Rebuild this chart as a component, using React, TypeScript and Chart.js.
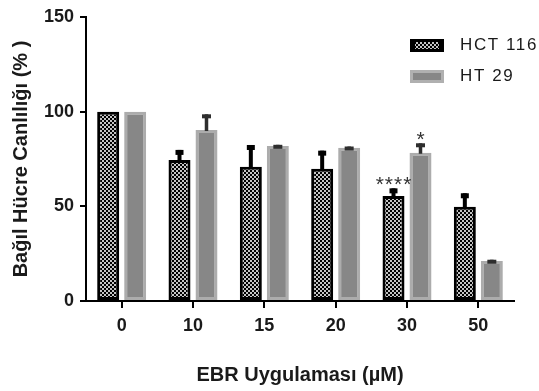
import { useEffect, useRef } from 'react';
import { Chart, registerables } from 'chart.js';
Chart.register(...registerables);

const categories = ['0', '10', '15', '20', '30', '50'];
const seriesLabels = ['HCT 116', 'HT 29'];
const hctValues = [100, 74.5, 70.9, 69.9, 55.5, 49.8];
const hctErrTop = [100, 79.8, 82.4, 79.4, 59.5, 56.9];
const htValues = [100, 90.3, 81.9, 81.0, 78.3, 21.1];
const htErrTop = [100, 98.6, 82.5, 81.6, 83.3, 21.8];
const hctSig = ['', '', '', '', '****', ''];
const htSig = ['', '', '', '', '*', ''];
const yTicks = [0, 50, 100, 150];
const xTitle = 'EBR Uygulaması (µM)';
const yTitle = 'Bağıl Hücre Canlılığı (% )';

const FONT = '"Liberation Sans", Arial, Helvetica, sans-serif';

function makeChecker(ctx: CanvasRenderingContext2D): CanvasPattern {
  const c = document.createElement('canvas');
  c.width = 4;
  c.height = 4;
  const g = c.getContext('2d')!;
  g.fillStyle = '#c4c4c4';
  g.fillRect(0, 0, 4, 4);
  g.fillStyle = '#000000';
  g.fillRect(0, 0, 2, 2);
  g.fillRect(2, 2, 2, 2);
  return ctx.createPattern(c, 'repeat')!;
}

export default function App() {
  const ref = useRef<HTMLCanvasElement | null>(null);

  useEffect(() => {
    const canvas = ref.current!;
    const ctx0 = canvas.getContext('2d')!;
    const checker = makeChecker(ctx0);

    const errStyles = [
      { err: hctErrTop, sig: hctSig, color: '#000000', stem: 4, capW: 8, capH: 5 },
      { err: htErrTop, sig: htSig, color: '#2e2e2e', stem: 3.5, capW: 9, capH: 4 },
    ];

    const errorPlugin = {
      id: 'errorBars',
      afterDatasetsDraw(chart: any) {
        const ctx = chart.ctx as CanvasRenderingContext2D;
        const ys = chart.scales.y;
        errStyles.forEach((s, di) => {
          const meta = chart.getDatasetMeta(di);
          meta.data.forEach((el: any, i: number) => {
            const v = chart.data.datasets[di].data[i] as number;
            const top = ys.getPixelForValue(s.err[i]);
            const barTop = ys.getPixelForValue(v);
            ctx.save();
            if (s.err[i] > v) {
              ctx.fillStyle = s.color;
              ctx.fillRect(el.x - s.stem / 2, top, s.stem, barTop - top + 1);
              ctx.fillRect(el.x - s.capW / 2, top, s.capW, s.capH);
            }
            if (s.sig[i]) {
              ctx.fillStyle = '#333333';
              ctx.font = `21px ${FONT}`;
              (ctx as any).letterSpacing = '1px';
              ctx.textAlign = 'center';
              ctx.textBaseline = 'alphabetic';
              ctx.fillText(s.sig[i], el.x + 0.5, top + 2.5);
            }
            ctx.restore();
          });
        });
      },
    };

    const legendPlugin = {
      id: 'customLegend',
      afterDraw(chart: any) {
        const ctx = chart.ctx as CanvasRenderingContext2D;
        const bx = 410, bw = 34, bh = 13;
        const rows = [39, 70];
        ctx.save();
        // HCT 116
        ctx.fillStyle = '#000000';
        ctx.fillRect(bx, rows[0], bw, bh);
        ctx.fillStyle = checker;
        ctx.fillRect(bx + 5, rows[0] + 3, bw - 10, bh - 6);
        // HT 29
        ctx.fillStyle = '#b0b0b0';
        ctx.fillRect(bx, rows[1], bw, bh);
        ctx.fillStyle = '#878787';
        ctx.fillRect(bx + 3, rows[1] + 3, bw - 6, bh - 6);
        ctx.fillStyle = '#1a1a1a';
        ctx.font = `17px ${FONT}`;
        (ctx as any).letterSpacing = '1.6px';
        ctx.textAlign = 'left';
        ctx.textBaseline = 'middle';
        ctx.fillText(seriesLabels[0], 460, rows[0] + 6.5);
        ctx.fillText(seriesLabels[1], 460, rows[1] + 6.5);
        ctx.restore();
      },
    };

    const chart = new Chart(canvas, {
      type: 'bar',
      data: {
        labels: categories,
        datasets: [
          {
            label: seriesLabels[0],
            data: hctValues,
            backgroundColor: checker as any,
            borderColor: '#000000',
            borderWidth: 3,
            borderSkipped: false,
            categoryPercentage: 0.757,
            barPercentage: 0.815,
          },
          {
            label: seriesLabels[1],
            data: htValues,
            backgroundColor: '#878787',
            borderColor: '#acacac',
            borderWidth: 3,
            borderSkipped: false,
            categoryPercentage: 0.757,
            barPercentage: 0.815,
          },
        ],
      },
      options: {
        responsive: false,
        animation: false,
        layout: { padding: { top: 17, right: 25, left: 0, bottom: 0 } },
        plugins: {
          legend: { display: false },
          tooltip: { enabled: false },
        },
        scales: {
          x: {
            type: 'category',
            offset: true,
            grid: {
              display: true,
              drawOnChartArea: false,
              drawTicks: true,
              tickLength: 7,
              color: '#000000',
              lineWidth: 2,
              offset: false,
            },
            border: { display: true, color: '#000000', width: 2 },
            ticks: {
              color: '#1a1a1a',
              font: { family: FONT, size: 18, weight: 'bold' },
              padding: 7,
              maxRotation: 0,
            },
            title: {
              display: true,
              text: xTitle,
              color: '#1a1a1a',
              font: { family: FONT, size: 20, weight: 'bold' },
              padding: { top: 0, bottom: 4 },
            },
            afterFit(scale: any) {
              scale.height = 90;
            },
          },
          y: {
            min: 0,
            max: 150,
            grid: {
              display: true,
              drawOnChartArea: false,
              drawTicks: true,
              tickLength: 6,
              color: '#000000',
              lineWidth: 2,
            },
            border: { display: true, color: '#000000', width: 2 },
            ticks: {
              color: '#1a1a1a',
              font: { family: FONT, size: 18, weight: 'bold' },
              padding: 6,
            },
            afterBuildTicks(scale: any) {
              scale.ticks = yTicks.map((v) => ({ value: v }));
            },
            title: {
              display: true,
              text: yTitle,
              color: '#1a1a1a',
              font: { family: FONT, size: 20, weight: 'bold' },
              padding: { top: 9, bottom: 0 },
            },
            afterFit(scale: any) {
              scale.width = 86;
            },
          },
        },
      },
      plugins: [errorPlugin, legendPlugin],
    });

    return () => chart.destroy();
  }, []);

  return (
    <div style={{ position: 'absolute', left: 0, top: 0, width: 539, height: 391, background: '#ffffff' }}>
      <canvas ref={ref} width={539} height={391} style={{ width: 539, height: 391, display: 'block' }} />
    </div>
  );
}
